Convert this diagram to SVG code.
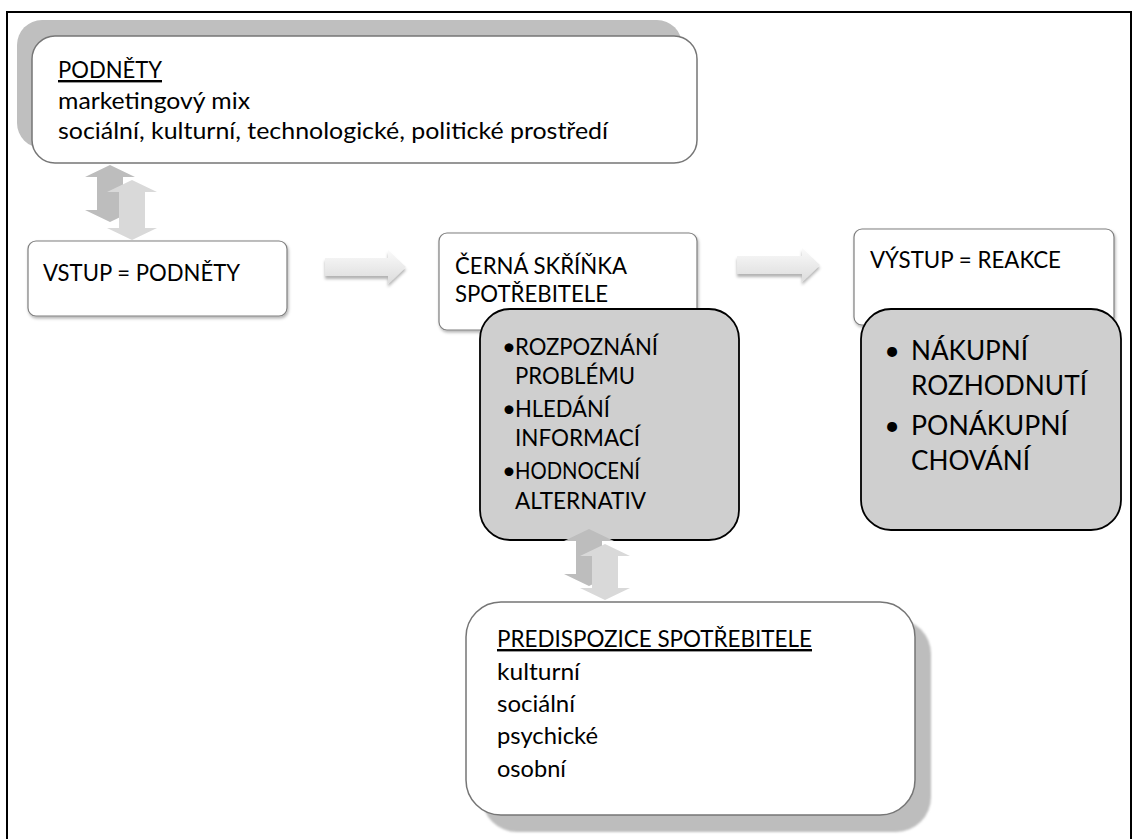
<svg xmlns="http://www.w3.org/2000/svg" width="1134" height="839" viewBox="0 0 1134 839">
<defs>
<style>
.t{font-family:Lato,"Open Sans","Liberation Sans",sans-serif;font-size:24px;fill:#000}
.tb{font-family:Lato,"Open Sans","Liberation Sans",sans-serif;font-size:27px;fill:#000}
.u{text-decoration:underline}
.wbox{fill:#fff;stroke:#7f7f7f;stroke-width:1.2}
.bigbox{fill:#fff;stroke:#767676;stroke-width:1.5}
.gbox{fill:#cfcfcf;stroke:#000;stroke-width:1.8}
.arrH{fill:url(#gH);filter:url(#shA)}
.arrD{fill:#bdbdbd}
.arrL{fill:#d9d9d9}
</style>
<linearGradient id="gH" x1="0" y1="0" x2="0" y2="1">
<stop offset="0" stop-color="#fafafa"/>
<stop offset="1" stop-color="#dcdcdc"/>
</linearGradient>
<filter id="shB" x="-10%" y="-10%" width="120%" height="130%">
<feDropShadow dx="1" dy="2" stdDeviation="1.5" flood-color="#000" flood-opacity="0.3"/>
</filter>
<filter id="shA" x="-10%" y="-20%" width="120%" height="160%">
<feDropShadow dx="0" dy="3" stdDeviation="1.5" flood-color="#000" flood-opacity="0.3"/>
</filter>
<filter id="blur1" x="-5%" y="-5%" width="110%" height="110%">
<feGaussianBlur stdDeviation="1.2"/>
</filter>
</defs>

<rect x="7" y="12" width="1124" height="860" fill="none" stroke="#000" stroke-width="2"/>

<g id="podnety">
<rect x="17" y="20" width="665" height="128" rx="25" fill="#bfbfbf"/>
<rect class="bigbox" x="32" y="36" width="665" height="127" rx="23"/>
<text class="t u" x="58" y="78" textLength="104" lengthAdjust="spacingAndGlyphs">PODNĚTY</text>
<text class="t" x="58" y="109" textLength="192" lengthAdjust="spacingAndGlyphs">marketingový mix</text>
<text class="t" x="58" y="139" textLength="550" lengthAdjust="spacingAndGlyphs">sociální, kulturní, technologické, politické prostředí</text>
</g>

<g id="vstup">
<rect class="wbox" x="28" y="241" width="259" height="75" rx="8" filter="url(#shB)"/>
<text class="t" x="43" y="281" textLength="197" lengthAdjust="spacingAndGlyphs">VSTUP = PODNĚTY</text>
</g>

<g id="cerna">
<rect class="wbox" x="439" y="233" width="258" height="97" rx="8" filter="url(#shB)"/>
<text class="t" x="455" y="274" textLength="172" lengthAdjust="spacingAndGlyphs">ČERNÁ SKŘÍŇKA</text>
<text class="t" x="455" y="302" textLength="153" lengthAdjust="spacingAndGlyphs">SPOTŘEBITELE</text>
</g>

<g id="proces">
<rect class="gbox" x="480" y="309" width="259" height="231" rx="30"/>
<text class="t" x="502" y="355">•</text>
<text class="t" x="515" y="355" textLength="143" lengthAdjust="spacingAndGlyphs">ROZPOZNÁNÍ</text>
<text class="t" x="515" y="384" textLength="120" lengthAdjust="spacingAndGlyphs">PROBLÉMU</text>
<text class="t" x="502" y="417">•</text>
<text class="t" x="515" y="417" textLength="95" lengthAdjust="spacingAndGlyphs">HLEDÁNÍ</text>
<text class="t" x="515" y="446" textLength="125" lengthAdjust="spacingAndGlyphs">INFORMACÍ</text>
<text class="t" x="502" y="479">•</text>
<text class="t" x="515" y="479" textLength="125" lengthAdjust="spacingAndGlyphs">HODNOCENÍ</text>
<text class="t" x="515" y="509" textLength="131" lengthAdjust="spacingAndGlyphs">ALTERNATIV</text>
</g>

<g id="vystup">
<rect class="wbox" x="854" y="229" width="260" height="96" rx="8" filter="url(#shB)"/>
<text class="t" x="870" y="268" textLength="191" lengthAdjust="spacingAndGlyphs">VÝSTUP = REAKCE</text>
</g>

<g id="reakce">
<rect class="gbox" x="861" y="309" width="260" height="221" rx="30"/>
<text class="tb" x="892" y="360" text-anchor="middle">•</text>
<text class="tb" x="911" y="360" textLength="117" lengthAdjust="spacingAndGlyphs">NÁKUPNÍ</text>
<text class="tb" x="911" y="395" textLength="176" lengthAdjust="spacingAndGlyphs">ROZHODNUTÍ</text>
<text class="tb" x="892" y="435" text-anchor="middle">•</text>
<text class="tb" x="911" y="435" textLength="157" lengthAdjust="spacingAndGlyphs">PONÁKUPNÍ</text>
<text class="tb" x="911" y="470" textLength="119" lengthAdjust="spacingAndGlyphs">CHOVÁNÍ</text>
</g>

<g id="predispozice">
<rect x="482" y="619" width="449" height="213" rx="35" fill="#bdbdbd" filter="url(#blur1)"/>
<rect class="bigbox" x="466" y="602" width="449" height="213" rx="35"/>
<text class="t u" x="497" y="647" textLength="315" lengthAdjust="spacingAndGlyphs">PREDISPOZICE SPOTŘEBITELE</text>
<text class="t" x="497" y="680" textLength="83" lengthAdjust="spacingAndGlyphs">kulturní</text>
<text class="t" x="497" y="712" textLength="78" lengthAdjust="spacingAndGlyphs">sociální</text>
<text class="t" x="497" y="744" textLength="101" lengthAdjust="spacingAndGlyphs">psychické</text>
<text class="t" x="497" y="777" textLength="69" lengthAdjust="spacingAndGlyphs">osobní</text>
</g>

<g id="connectors">
<path class="arrD" d="M110,165 L135,177 H123 V210 H135 L110,222 L85,210 H97 V177 H85 Z"/>
<path class="arrL" d="M132,180 L157,192 H145 V228 H157 L132,240 L107,228 H119 V192 H107 Z"/>
<path class="arrH" d="M325,258 H388 V250 L406,267 L388,284 V276 H325 Z"/>
<path class="arrH" d="M737,256 H802 V248 L820,265 L802,282 V274 H737 Z"/>
<path class="arrD" d="M589,529 L614,541 H602 V574 H614 L589,586 L564,574 H576 V541 H564 Z"/>
<path class="arrL" d="M605,544 L630,556 H618 V588 H630 L605,600 L580,588 H592 V556 H580 Z"/>
</g>
</svg>
